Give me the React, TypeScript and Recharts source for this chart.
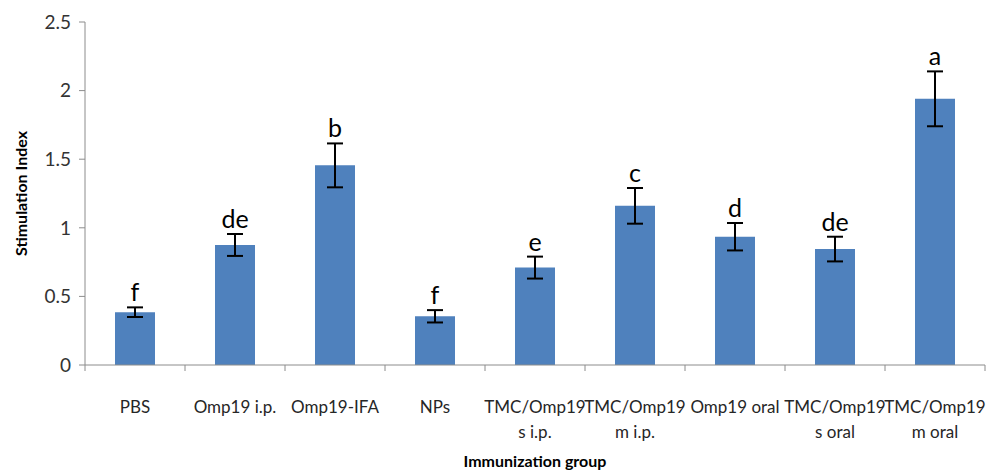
import { BarChart, Bar, XAxis, YAxis, ErrorBar, LabelList, Label } from 'recharts';

const groups = [
  'PBS',
  'Omp19 i.p.',
  'Omp19-IFA',
  'NPs',
  'TMC/Omp19\ns i.p.',
  'TMC/Omp19\nm i.p.',
  'Omp19 oral',
  'TMC/Omp19\ns oral',
  'TMC/Omp19\nm oral',
];
const stimIndex = [0.385, 0.875, 1.455, 0.355, 0.71, 1.16, 0.935, 0.845, 1.94];
const stimError = [0.035, 0.08, 0.16, 0.045, 0.08, 0.13, 0.1, 0.09, 0.2];
const letters = ['f', 'de', 'b', 'f', 'e', 'c', 'd', 'de', 'a'];
const yTicks = [0, 0.5, 1, 1.5, 2, 2.5];

const W = 989;
const H = 471;
const LEFT = 85;
const RIGHT = 4;
const BAND = (W - LEFT - RIGHT) / groups.length;
const FONT = 'Lato, "Open Sans", sans-serif';
const AXIS_GREY = '#8c8c8c';

const data = groups.map((g, i) => ({
  group: g,
  value: stimIndex[i],
  err: stimError[i],
  letter: letters[i],
}));

function GroupTick(props: any) {
  const { x, y, payload, index } = props;
  const lines = String(payload.value).split('\n');
  const half = BAND / 2;
  return (
    <g>
      <line x1={x - half} x2={x - half} y1={y} y2={y + 6} stroke={AXIS_GREY} />
      {index === groups.length - 1 && (
        <line x1={x + half} x2={x + half} y1={y} y2={y + 6} stroke={AXIS_GREY} />
      )}
      <text x={x} y={y + 48} textAnchor="middle" fill="#262626" fontSize={17} fontFamily={FONT}>
        {lines.map((l, i) => (
          <tspan key={i} x={x} dy={i === 0 ? 0 : 25}>
            {l}
          </tspan>
        ))}
      </text>
    </g>
  );
}

function LetterLabel(props: any) {
  const { x, y, width, height, value, index } = props;
  const pxPerUnit = height / stimIndex[index];
  const top = y - stimError[index] * pxPerUnit;
  return (
    <text x={x + width / 2} y={top - 6} textAnchor="middle" fontSize={25} fill="#000" fontFamily={FONT}>
      {value}
    </text>
  );
}

export default function App() {
  return (
    <div style={{ width: W, height: H, background: '#fff' }}>
      <style>{'body{margin:0}'}</style>
      <BarChart
        width={W}
        height={H}
        data={data}
        margin={{ top: 22, right: RIGHT, bottom: 0, left: 0 }}
        barCategoryGap={0}
      >
        <XAxis
          dataKey="group"
          interval={0}
          height={106}
          tickLine={false}
          tickSize={0}
          tickMargin={0}
          stroke={AXIS_GREY}
          tick={<GroupTick />}
        >
          <Label
            value="Immunization group"
            position="insideBottom"
            offset={4}
            style={{ fontFamily: FONT, fontWeight: 700, fontSize: 16, fill: '#000' }}
          />
        </XAxis>
        <YAxis
          width={LEFT}
          domain={[0, 2.5]}
          ticks={yTicks}
          stroke={AXIS_GREY}
          tickSize={6}
          tickMargin={8}
          tick={{ fill: '#333', fontSize: 19, fontFamily: FONT }}
        >
          <Label
            content={(p: any) => {
              const vb = p.viewBox;
              const cx = 20;
              const cy = vb.y + vb.height / 2;
              return (
                <text
                  x={cx}
                  y={cy}
                  transform={`rotate(-90 ${cx} ${cy})`}
                  textAnchor="middle"
                  dominantBaseline="central"
                  fontFamily={FONT}
                  fontWeight={700}
                  fontSize={16}
                  fill="#000"
                >
                  Stimulation Index
                </text>
              );
            }}
          />
        </YAxis>
        <Bar dataKey="value" fill="#4f81bd" barSize={40} isAnimationActive={false}>
          <ErrorBar dataKey="err" width={8} stroke="#000" strokeWidth={2} direction="y" />
          <LabelList dataKey="letter" content={<LetterLabel />} />
        </Bar>
      </BarChart>
    </div>
  );
}
